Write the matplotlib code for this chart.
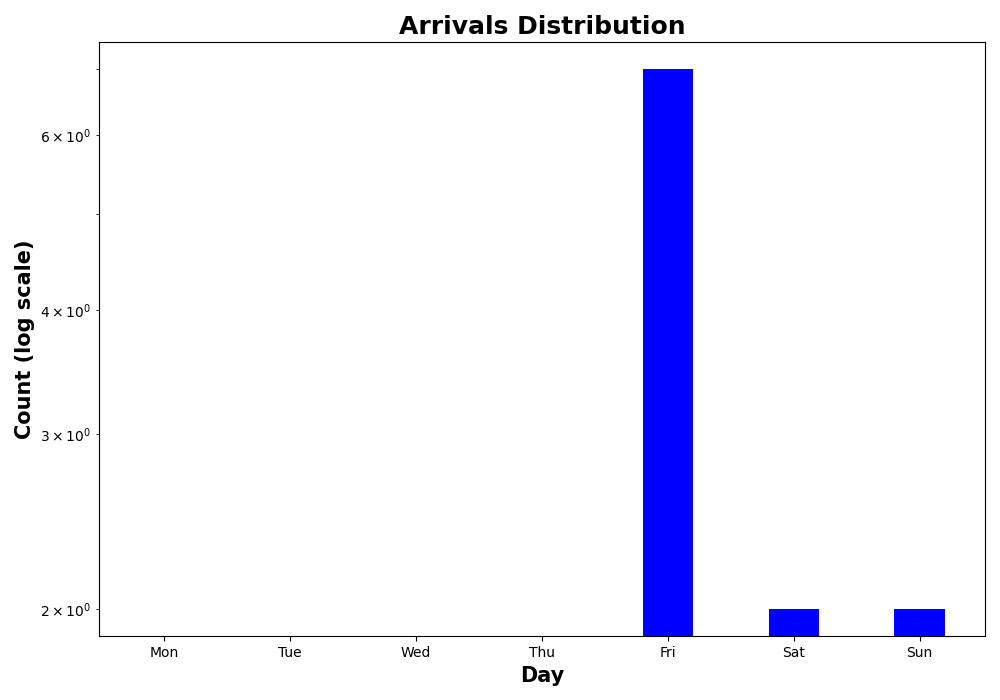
import matplotlib
matplotlib.use("Agg")
import matplotlib.pyplot as plt
import numpy as np

days = ['Mon', 'Tue', 'Wed', 'Thu', 'Fri', 'Sat', 'Sun']
counts = [0, 0, 0, 0, 7, 2, 2]

fig, ax = plt.subplots(figsize=(10, 7), dpi=100)
x = np.arange(len(days))
ax.bar(x, counts, width=0.4, color='blue')
ax.set_yscale('log')

# autoscale-like limits from the positive values (5% margin in log space)
pos = np.log10([c for c in counts if c > 0])
span = pos.max() - pos.min()
ax.set_ylim(10 ** (pos.min() - 0.05 * span), 10 ** (pos.max() + 0.05 * span))

ax.set_xticks(x)
ax.set_xticklabels(days)
ax.set_title('Arrivals Distribution', fontsize=18, fontweight='bold')
ax.set_xlabel('Day', fontsize=15, fontweight='bold')
ax.set_ylabel('Count (log scale)', fontsize=15, fontweight='bold')

fig.subplots_adjust(left=0.099, right=0.985, top=0.94, bottom=0.091)
plt.savefig('out.png')
